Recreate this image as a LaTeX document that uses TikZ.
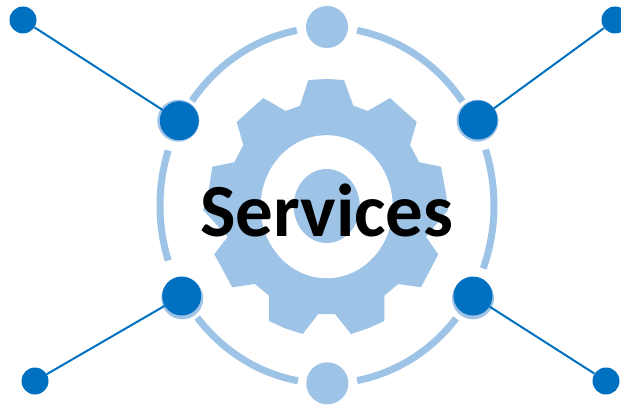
\documentclass[tikz,border=0pt]{standalone}
\usepackage{fontspec}
\setmainfont{Carlito}
\definecolor{lightblue}{HTML}{9DC3E6}
\definecolor{darkblue}{HTML}{0070C0}
\tikzset{
    ringarc/.style={draw=lightblue, line width=7pt},
    ringdot/.style={circle, fill=lightblue, inner sep=0pt, minimum size=42pt},
    hubdot/.style={circle, fill=darkblue, inner sep=0pt, minimum size=39pt},
    enddot/.style={circle, fill=darkblue, inner sep=0pt, minimum size=27pt},
    spoke/.style={draw=darkblue, line width=2pt}
}
\begin{document}
\begin{tikzpicture}[x=1pt, y=1pt]
    \useasboundingbox (0,0) rectangle (621,405);
    \coordinate (O) at (327,199.5);
    % gear
    \fill[lightblue] (308.3,325) -- (326.7,326) -- (344,325) -- (353.3,299.3) -- (367.7,294)
        -- (390,307) -- (416.7,283) -- (410,260) -- (419.3,242.7) -- (441,238.3) -- (446,211.7)
        -- (448,195) -- (426,168.3) -- (438.3,150.7) -- (421,117.7) -- (398.3,121) -- (384.3,109.3)
        -- (384.3,84) -- (368.3,76.7) -- (351,71) -- (335,91) -- (318.3,91) -- (302.7,71)
        -- (285,76.7) -- (269,84) -- (269,109.3) -- (255,121) -- (232.3,117.7) -- (214.3,150.7)
        -- (227.7,168.3) -- (203,195) -- (208.3,211.7) -- (212.3,238.3) -- (234.3,242.7)
        -- (243.3,260) -- (236.7,283) -- (263.3,307) -- (285.7,294) -- (300,299.3) -- cycle;
    \fill[white] (326.7,198.3) ellipse (66 and 71.5);
    \fill[lightblue] (326.7,199) ellipse (33 and 37);
    % ring
    \foreach \a/\b in {79.6/35.8, 18.3/-20.7, -39.4/-79.6, 100.4/144, 162/198, 219/260}
        \draw[ringarc] (O) ++(\a:167 and 178) arc[start angle=\a, end angle=\b, x radius=167, y radius=178];
    \node[ringdot] (top) at (327,378) {};
    \node[ringdot] (bottom) at (327.3,21.7) {};
    \node[ringdot] (ringtl) at (178.3,284.3) {};
    \node[ringdot] (ringtr) at (477.5,284.3) {};
    \node[ringdot] (ringbl) at (182.3,106.7) {};
    \node[ringdot] (ringbr) at (473,106.7) {};
    % hubs and ends
    \node[hubdot] (hubtl) at (179.3,284.3) {};
    \node[hubdot] (hubtr) at (478,285) {};
    \node[hubdot] (hubbl) at (181.7,109) {};
    \node[hubdot] (hubbr) at (473,109) {};
    \node[enddot] (endtl) at (23,385) {};
    \node[enddot] (endtr) at (615,385) {};
    \node[enddot] (endbl) at (35,24) {};
    \node[enddot] (endbr) at (606,24) {};
    \draw[spoke] (endtl) -- (hubtl);
    \draw[spoke] (endtr) -- (hubtr);
    \draw[spoke] (endbl) -- (hubbl);
    \draw[spoke] (endbr) -- (hubbr);
    \node[font=\fontsize{75}{75}\selectfont\bfseries, inner sep=0pt] (services) at (327,195) {Services};
\end{tikzpicture}
\end{document}
